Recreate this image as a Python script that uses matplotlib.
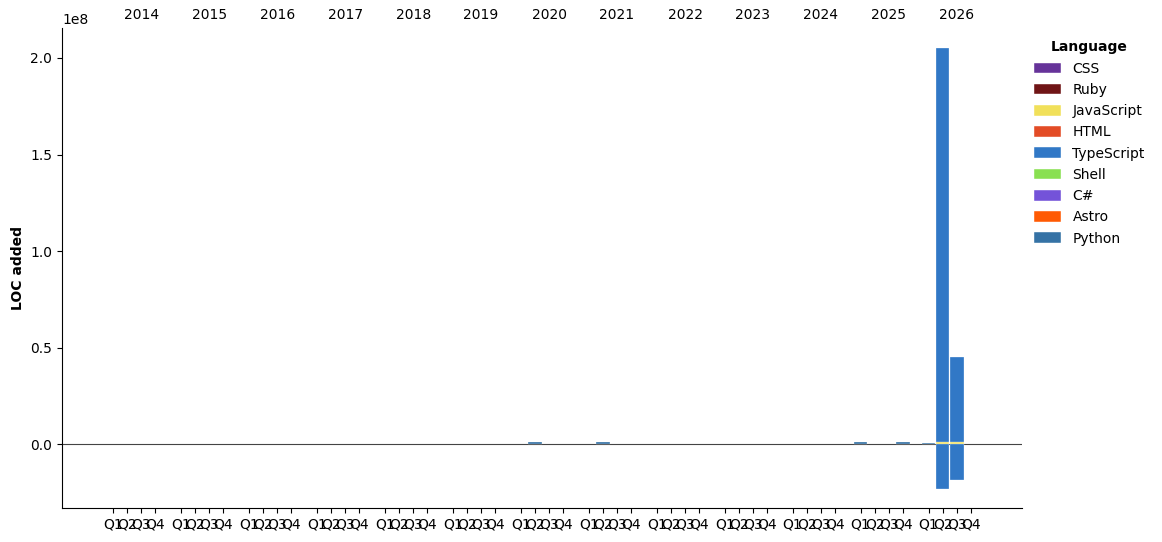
import numpy as np
import matplotlib
matplotlib.use("Agg")
import matplotlib.pyplot as plt
from matplotlib.patches import Patch

years = list(range(2014, 2027))
quarters = ["Q1", "Q2", "Q3", "Q4"]

languages = ["CSS", "Ruby", "JavaScript", "HTML", "TypeScript", "Shell", "C#", "Astro", "Python"]
lang_colors = ["#663399", "#701516", "#f1e05a", "#e34c26", "#3178c6",
               "#89e051", "#7453d9", "#ff5a03", "#3572a5"]

# quarters that have any visible change, (year, quarter number)
periods = [(2020, 2), (2021, 2), (2025, 1), (2025, 4), (2026, 1), (2026, 2), (2026, 3)]

# lines added per period (same order as periods)
python_added = [1.1e6, 1.1e6, 1.0e6, 1.0e6, 0.9e6, 0.0, 0.0]
javascript_added = [0.0, 0.0, 0.0, 0.0, 0.0, 1.1e6, 1.1e6]
typescript_added = [0.0, 0.0, 0.0, 0.0, 0.0, 2.04e8, 0.44e8]

# lines removed per period (drawn below zero)
typescript_removed = [0.0, 0.0, 0.0, 0.0, 0.0, -0.233e8, -0.187e8]

zeros = [0.0] * len(periods)
added = [zeros, zeros, javascript_added, zeros, typescript_added, zeros, zeros, zeros, python_added]
removed = [zeros, zeros, zeros, zeros, typescript_removed, zeros, zeros, zeros, zeros]

year_step = 4.8


def xpos(year, q):
    return (year - years[0]) * year_step + (q - 1)


fig = plt.figure(figsize=(11.62, 5.42), dpi=100)
ax = fig.add_axes([62 / 1162, 34 / 542, 960 / 1162, 480 / 542])

x = np.array([xpos(y, q) for y, q in periods])
pos_base = np.zeros(len(periods))
neg_base = np.zeros(len(periods))
for lang, col, add, rem in zip(languages, lang_colors, added, removed):
    add = np.array(add)
    rem = np.array(rem)
    m = add != 0
    if m.any():
        ax.bar(x[m], add[m], bottom=pos_base[m], width=0.95, color=col,
               edgecolor="white", linewidth=0.2, zorder=3)
        pos_base += add
    m = rem != 0
    if m.any():
        ax.bar(x[m], rem[m], bottom=neg_base[m], width=0.95, color=col,
               edgecolor="white", linewidth=0.2, zorder=3)
        neg_base += rem

ax.axhline(0, color="#444444", linewidth=0.8, zorder=2)

ticks = [xpos(y, q) for y in years for q in range(1, 5)]
ax.set_xticks(ticks)
ax.set_xticklabels(quarters * len(years), fontsize=10)
ax.set_xlim(-3.6, xpos(years[-1], 4) + 3.6)
ax.set_ylim(-0.33e8, 2.155e8)
ax.set_yticks([0, 0.5e8, 1.0e8, 1.5e8, 2.0e8])
ax.set_ylabel("LOC added", fontweight="bold")

ax.spines["top"].set_visible(False)
ax.spines["right"].set_visible(False)

top = ax.secondary_xaxis("top")
top.set_xticks([xpos(y, 3) for y in years])
top.set_xticklabels([str(y) for y in years], fontsize=10)
top.tick_params(length=0, pad=4)
top.spines["top"].set_visible(False)

handles = [Patch(facecolor=c, edgecolor="white", linewidth=0.3, label=l)
           for l, c in zip(languages, lang_colors)]
ax.legend(handles=handles, title="Language", title_fontproperties={"weight": "bold"},
          loc="upper left", bbox_to_anchor=(0.999, 1.0), frameon=False,
          handlelength=2.0, handleheight=0.8, labelspacing=0.52)

fig.savefig("out.png", dpi=100)
